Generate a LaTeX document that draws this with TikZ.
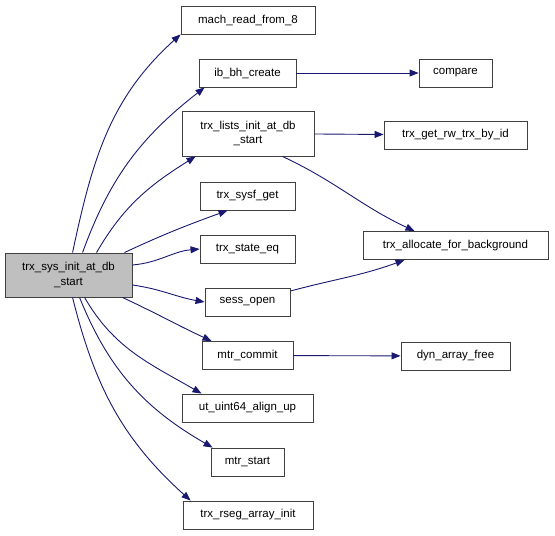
\documentclass[tikz,border=0pt]{standalone}
\usepackage{fontspec}
\setmainfont{Liberation Sans}
\usetikzlibrary{arrows.meta}
\definecolor{edgeblue}{HTML}{191970}
\definecolor{boxgray}{HTML}{BFBFBF}
\begin{document}
\begin{tikzpicture}[x=1pt, y=-1pt,
    fn/.style={draw=black!75, line width=0.9pt, fill=white, minimum height=28pt,
      inner sep=0pt, font=\fontsize{11.5}{14.5}\selectfont},
    call/.style={draw=edgeblue, line width=0.9pt,
      -{Triangle[length=9pt, width=7pt]}}]
    \useasboundingbox (0, 0) rectangle (555, 536);
    % caller
    \node [fn, fill=boxgray, minimum width=127pt, minimum height=44pt, align=center]
      (main) at (68.5, 275) {trx\_sys\_init\_at\_db\\\_start};
    % callees
    \node [fn, minimum width=134pt] (mach) at (248, 20) {mach\_read\_from\_8};
    \node [fn, minimum width=97pt] (bh) at (247.5, 73) {ib\_bh\_create};
    \node [fn, minimum width=132pt, minimum height=45pt, align=center]
      (lists) at (248, 133.5) {trx\_lists\_init\_at\_db\\\_start};
    \node [fn, minimum width=95pt] (sysf) at (247.5, 196) {trx\_sysf\_get};
    \node [fn, minimum width=95pt] (state) at (247.5, 249) {trx\_state\_eq};
    \node [fn, minimum width=85pt] (sess) at (247.5, 302) {sess\_open};
    \node [fn, minimum width=91pt] (commit) at (247.5, 355.5) {mtr\_commit};
    \node [fn, minimum width=131pt] (align) at (247.5, 408) {ut\_uint64\_align\_up};
    \node [fn, minimum width=73pt] (start) at (247.5, 462) {mtr\_start};
    \node [fn, minimum width=130pt] (rseg) at (248, 515) {trx\_rseg\_array\_init};
    % second level
    \node [fn, minimum width=73pt] (cmp) at (455.5, 73) {compare};
    \node [fn, minimum width=143pt] (rw) at (455.5, 135) {trx\_get\_rw\_trx\_by\_id};
    \node [fn, minimum width=185pt] (alloc) at (455.5, 245.5) {trx\_allocate\_for\_background};
    \node [fn, minimum width=109pt] (dyn) at (455.5, 356) {dyn\_array\_free};
    % edges from caller
    \draw [call] (main.north west) ++(68, 0) to[out=78, in=222] (mach.south west);
    \draw [call] (main.north west) ++(78, 0) to[out=70, in=218] ([xshift=6pt]bh.south west);
    \draw [call] (main.north west) ++(92, 0) to[out=60, in=212] ([xshift=14pt]lists.south west);
    \draw [call] (main.north east) ++(-8, 0) to[out=25, in=200] ([xshift=28pt]sysf.south west);
    \draw [call] (main.east) ++(0, -10) to[out=5, in=185] (state.west);
    \draw [call] (main.east) ++(0, 10) to[out=-8, in=170] (sess.west);
    \draw [call] (main.south east) ++(-10, 0) to[out=-25, in=155] ([xshift=10pt]commit.north west);
    \draw [call] (main.south west) ++(80, 0) to[out=-60, in=150] ([xshift=20pt]align.north west);
    \draw [call] (main.south west) ++(75, 0) to[out=-68, in=150] ([xshift=2pt]start.north west);
    \draw [call] (main.south west) ++(68, 0) to[out=-76, in=138] ([xshift=8pt]rseg.north west);
    % edges between callees
    \draw [call] (bh) to (cmp);
    \draw [call] (lists) to (rw);
    \draw [call] ([xshift=-32pt]lists.south east) to[out=-25, in=155] ([xshift=52pt]alloc.south west |- alloc.north);
    \draw [call] ([yshift=11pt]sess.east) to[out=15, in=200] ([xshift=42pt]alloc.south west);
    \draw [call] (commit) to (dyn);
\end{tikzpicture}
\end{document}
